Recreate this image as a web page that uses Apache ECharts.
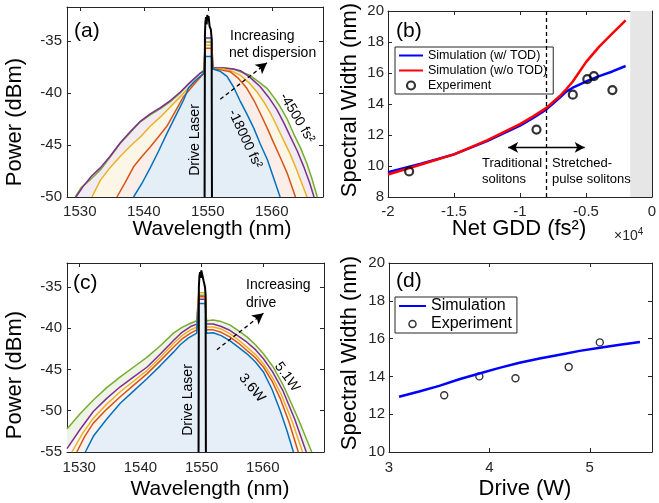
<!DOCTYPE html>
<html><head><meta charset="utf-8">
<script src="https://cdn.jsdelivr.net/npm/echarts@6/dist/echarts.min.js"></script>
<style>html,body{margin:0;padding:0;background:#fff}#c{width:659px;height:503px}</style>
</head><body><div id="c"></div>
<script>
// ================= DATA =================
// Panel (a): spectra vs net dispersion, [wavelength nm, power dBm]
const aTicksX = [1530, 1540, 1550, 1560];
const aTicksY = [-50, -45, -40, -35];
const aBlue = [[1538.4,-50],[1539.7,-48.7],[1541.0,-47.2],[1542.3,-45.6],[1543.6,-43.9],[1544.9,-42.3],[1546.2,-40.7],[1547.0,-39.5],[1547.9,-38.9],[1548.8,-38.4],[1549.4,-38.1],[1549.6,-36.5],[1550.6,-36.5],[1550.8,-37.7],[1551.9,-37.9],[1553.0,-38.4],[1554.0,-39.4],[1555.0,-40.7],[1556.1,-42.0],[1557.2,-43.4],[1558.2,-44.9],[1559.3,-46.4],[1560.3,-48.2],[1561.3,-50]];
const aRed = [[1535.8,-50],[1537.1,-48.6],[1538.4,-47.1],[1539.7,-46.1],[1541.0,-45.2],[1542.3,-44.2],[1543.6,-43.2],[1544.9,-41.8],[1546.2,-40.35],[1547.8,-39.2],[1548.8,-38.5],[1549.4,-38.1],[1549.6,-35.7],[1550.6,-35.7],[1550.8,-37.7],[1552.2,-37.8],[1553.5,-37.95],[1554.8,-38.6],[1556.1,-39.55],[1557.2,-40.7],[1558.2,-41.95],[1559.3,-43.4],[1560.3,-44.8],[1561.4,-46.3],[1562.4,-47.7],[1563.7,-50]];
const aYellow = [[1531.9,-50],[1533.2,-48.4],[1534.7,-47.2],[1536.3,-46.1],[1537.9,-45.1],[1539.5,-44.2],[1541.0,-43.2],[1542.6,-42.3],[1544.2,-41.3],[1545.7,-40.35],[1547.0,-39.5],[1548.3,-38.75],[1549.4,-38.1],[1549.6,-35.4],[1550.6,-35.4],[1550.8,-37.7],[1552.5,-37.7],[1553.8,-37.9],[1555.1,-38.3],[1556.4,-39.0],[1557.7,-39.9],[1558.8,-40.9],[1559.8,-41.95],[1560.8,-43.2],[1561.8,-44.5],[1562.9,-45.9],[1563.9,-47.4],[1564.7,-48.7],[1565.5,-50]];
const aPurple = [[1529.4,-50],[1530.5,-49.0],[1531.8,-48.0],[1533.2,-47.2],[1534.7,-46.1],[1536.3,-44.8],[1537.9,-43.7],[1539.5,-42.7],[1541.0,-42.0],[1542.6,-41.4],[1544.2,-40.7],[1545.7,-39.9],[1547.2,-39.0],[1548.8,-38.1],[1549.4,-37.9],[1549.6,-34.7],[1550.6,-34.7],[1550.8,-37.6],[1552.5,-37.6],[1554.0,-37.7],[1555.1,-37.85],[1556.6,-38.5],[1558.2,-39.4],[1559.5,-40.4],[1560.8,-41.6],[1561.9,-42.9],[1562.9,-44.2],[1564.0,-45.6],[1565.0,-47.1],[1565.9,-48.6],[1566.6,-50]];
const aGreen = [[1529.3,-50],[1530.2,-49.1],[1531.7,-48.3],[1533.2,-47.4],[1534.8,-46.1],[1536.3,-44.85],[1537.9,-43.8],[1539.5,-42.75],[1541.0,-42.1],[1542.6,-41.5],[1544.2,-40.8],[1545.7,-40.0],[1547.2,-39.0],[1548.8,-38.1],[1549.4,-37.8],[1549.6,-35.1],[1550.6,-35.1],[1550.8,-37.6],[1552.5,-37.6],[1554.0,-37.7],[1555.3,-38.0],[1556.6,-38.3],[1557.9,-38.9],[1559.25,-39.55],[1560.3,-40.4],[1561.3,-41.3],[1562.4,-42.5],[1563.4,-43.9],[1564.5,-45.3],[1565.5,-46.8],[1566.3,-48.3],[1567.1,-50]];
const aDrive = [[1549.5,-50],[1549.55,-34.5],[1549.62,-33.2],[1549.72,-32.7],[1549.82,-33.4],[1549.92,-32.5],[1550.02,-32.9],[1550.12,-32.6],[1550.28,-33.6],[1550.48,-33.9],[1550.6,-34.8],[1550.65,-50]];
const aArrow = [[1551.95,-40.6],[1559.25,-37.1]];

// Panel (b): spectral width vs net GDD (fs^2)
const bTicksX = [-20000, -15000, -10000, -5000, 0];
const bGDD = [-20000,-17500,-15000,-12500,-10000,-9000,-8000,-7000,-6500,-6000,-5000,-4000,-3000,-2000];
const bSimTOD = [9.6,10.15,10.75,11.6,12.6,13.1,13.65,14.4,14.8,15.05,15.45,15.8,16.1,16.45];
const bSimNoTOD = [9.45,10.1,10.75,11.65,12.7,13.2,13.75,14.5,14.95,15.45,16.7,17.7,18.55,19.4];
const bExp = [[-18400,9.65],[-8750,12.35],[-6000,14.6],[-4900,15.6],[-4400,15.8],[-3000,14.9]];
const bBoundary = -8000;
const bUnstable = [-1650, 0];
const bArrow = [[-10900,11.2],[-5100,11.2]];

// Panel (c): spectra vs drive power
const cTicksX = [1530, 1540, 1550, 1560];
const cTicksY = [-55, -50, -45, -40, -35];
const cBlue = [[1531.0,-55],[1532.3,-53.1],[1534.5,-51.0],[1536.7,-49.1],[1538.9,-47.6],[1541.1,-46.1],[1543.3,-44.5],[1545.4,-42.9],[1546.5,-42.0],[1547.8,-41.2],[1549.2,-40.6],[1549.5,-37.0],[1550.6,-37.0],[1550.8,-40.6],[1551.9,-40.55],[1553.2,-40.9],[1554.6,-41.5],[1556.0,-42.3],[1557.4,-43.1],[1558.8,-44.1],[1560.1,-45.3],[1561.5,-47.4],[1562.8,-49.9],[1563.9,-52.3],[1565.0,-55]];
const cRed = [[1529.6,-55],[1530.9,-53.1],[1532.3,-51.5],[1534.5,-49.8],[1536.7,-48.3],[1538.9,-46.9],[1541.1,-45.5],[1543.3,-43.9],[1545.4,-42.3],[1546.8,-41.3],[1548.2,-40.6],[1549.2,-40.2],[1549.5,-36.2],[1550.6,-36.2],[1550.8,-40.2],[1551.9,-40.2],[1553.2,-40.5],[1554.6,-41.05],[1556.0,-41.8],[1557.4,-42.7],[1558.8,-43.6],[1560.1,-44.7],[1561.5,-46.4],[1562.9,-48.6],[1564.3,-51.4],[1565.8,-55]];
const cYellow = [[1528.8,-55],[1530.5,-52.8],[1532.3,-50.9],[1534.5,-49.2],[1536.7,-47.7],[1538.9,-46.4],[1541.1,-45.1],[1543.3,-43.5],[1545.4,-41.85],[1546.8,-40.9],[1548.2,-40.2],[1549.2,-39.85],[1549.5,-35.7],[1550.6,-35.7],[1550.8,-39.85],[1551.9,-39.85],[1553.2,-40.1],[1554.6,-40.65],[1556.0,-41.4],[1557.4,-42.3],[1558.8,-43.2],[1560.1,-44.3],[1561.5,-45.9],[1563.0,-48.0],[1564.8,-51.3],[1566.5,-55]];
const cPurple = [[1528.0,-54.6],[1530.1,-52.3],[1532.3,-50.1],[1534.5,-48.5],[1536.7,-47.1],[1538.9,-45.9],[1541.1,-44.7],[1543.3,-43.1],[1545.4,-41.5],[1546.8,-40.5],[1548.2,-39.8],[1549.2,-39.5],[1549.5,-36.5],[1550.6,-36.5],[1550.8,-39.5],[1551.9,-39.5],[1553.2,-39.8],[1554.6,-40.25],[1556.0,-40.95],[1557.4,-41.7],[1558.8,-42.6],[1560.1,-43.7],[1561.6,-45.3],[1563.3,-47.6],[1565.2,-51.0],[1567.1,-55]];
const cGreen = [[1528.0,-52.2],[1530.1,-50.4],[1532.3,-48.7],[1534.5,-47.2],[1536.7,-45.9],[1538.9,-44.7],[1541.1,-43.5],[1543.3,-42.1],[1545.4,-40.6],[1546.8,-39.9],[1548.2,-39.4],[1549.2,-39.1],[1549.5,-36.0],[1550.6,-36.0],[1550.8,-39.1],[1551.9,-39.0],[1553.2,-39.2],[1554.6,-39.6],[1556.0,-40.3],[1557.4,-41.05],[1558.8,-42.0],[1560.1,-43.1],[1561.7,-44.7],[1563.4,-47.0],[1565.8,-51.0],[1568.0,-55]];
const cDrive = [[1549.5,-55],[1549.55,-35.0],[1549.65,-33.6],[1549.75,-33.2],[1549.85,-33.9],[1549.95,-33.0],[1550.1,-33.5],[1550.3,-34.2],[1550.55,-35.0],[1550.65,-36.0],[1550.7,-55]];
const cArrow = [[1552.5,-42.6],[1560.1,-38.2]];

// Panel (d): spectral width vs drive power (W)
const dDrive = [3.1,3.3,3.5,3.7,3.9,4.1,4.3,4.5,4.7,4.9,5.1,5.3,5.5];
const dSim = [12.92,13.2,13.5,13.85,14.15,14.45,14.72,14.95,15.15,15.35,15.52,15.68,15.82];
const dExp = [[3.55,13.0],[3.9,14.0],[4.26,13.9],[4.79,14.5],[5.1,15.8]];

// ================= CHART =================
const FONT = '"Liberation Sans", Arial, Helvetica, sans-serif';
const AX = '#262626';
const C = {blue:'#0072BD', red:'#D95319', yellow:'#EDB120', purple:'#7E2F8E', green:'#77AC30'};

const grids = [
  {left:67, top:7, width:256, height:190},
  {left:388, top:11, width:264, height:186},
  {left:67, top:263, width:257, height:189},
  {left:389, top:263, width:263, height:189}
].map(g => Object.assign({outerBoundsMode:'none', containLabel:false, show:false}, g));

const plainFmt = v => String(v);
function xAx(grid, min, max, ticks, pos, fmt, margin){
  return {type:'value', gridIndex:grid, position:pos, min:min, max:max,
    axisLine:{show:true, onZero:false, lineStyle:{color:AX, width:1}},
    axisTick:{show:true, inside:true, length:4, customValues:ticks, lineStyle:{color:AX}},
    axisLabel:{show:pos==='bottom', customValues:ticks, margin:margin, color:AX, fontSize:15, fontFamily:FONT, formatter:fmt || plainFmt},
    splitLine:{show:false}};
}
function yAx(grid, min, max, ticks, pos, margin){
  return {type:'value', gridIndex:grid, position:pos, min:min, max:max,
    axisLine:{show:true, onZero:false, lineStyle:{color:AX, width:1}},
    axisTick:{show:true, inside:true, length:4, customValues:ticks, lineStyle:{color:AX}},
    axisLabel:{show:pos==='left', customValues:ticks, margin:margin, color:AX, fontSize:15, fontFamily:FONT, formatter:plainFmt},
    splitLine:{show:false}};
}
const bFmt = v => String(+(v/10000).toFixed(1));
const xAxes = [
  xAx(0,1528,1568,aTicksX,'bottom',null,7), xAx(0,1528,1568,aTicksX,'top',null,7),
  xAx(1,-20000,0,bTicksX,'bottom',bFmt,7), xAx(1,-20000,0,bTicksX,'top',bFmt,7),
  xAx(2,1528,1570,cTicksX,'bottom',null,8), xAx(2,1528,1570,cTicksX,'top',null,8),
  xAx(3,3,5.62,[3,4,5],'bottom',null,8), xAx(3,3,5.62,[3,4,5],'top',null,8)
];
const yAxes = [
  yAx(0,-50,-31.73,aTicksY,'left',5), yAx(0,-50,-31.73,aTicksY,'right',5),
  yAx(1,8,20,[8,10,12,14,16,18,20],'left',4), yAx(1,8,20,[8,10,12,14,16,18,20],'right',4),
  yAx(2,-55,-32.1,cTicksY,'left',5), yAx(2,-55,-32.1,cTicksY,'right',5),
  yAx(3,10,20,[10,12,14,16,18,20],'left',4), yAx(3,10,20,[10,12,14,16,18,20],'right',4)
];

function spec(name, data, color, fill, ax){
  return {name:name, type:'line', xAxisIndex:ax, yAxisIndex:ax, data:data, symbol:'none', showSymbol:false,
    lineStyle:{color:color, width:1.5}, itemStyle:{color:color},
    areaStyle:{color:fill, opacity:1, origin:'start'}, silent:true};
}
function arrowML(pts, dashed, both){
  return {silent:true, symbol: both ? ['arrow','arrow'] : ['none','arrow'], symbolSize: both ? [8,10] : [9,11],
    label:{show:false}, lineStyle:{color:'#000', width:1.3, type: dashed ? [4,3] : 'solid'},
    data:[[{coord:pts[0]},{coord:pts[1]}]]};
}

const series = [
  spec('a5', aGreen, C.green, '#eef4e5', 0),
  spec('a4', aPurple, C.purple, '#f1ebf4', 0),
  spec('a3', aYellow, C.yellow, '#fcf6e6', 0),
  spec('a2', aRed, C.red, '#fbede7', 0),
  spec('a1', aBlue, C.blue, '#e4eef7', 0),
  {name:'aDrive', type:'line', xAxisIndex:0, yAxisIndex:0, data:aDrive, symbol:'none', lineStyle:{color:'#000', width:2}, silent:true,
   markLine: arrowML(aArrow, true, false)},

  {name:'Simulation (w/ TOD)', type:'line', xAxisIndex:2, yAxisIndex:2, data:bGDD.map((g,i)=>[g,bSimTOD[i]]), symbol:'none',
   lineStyle:{color:'#0000FF', width:2.5}, itemStyle:{color:'#0000FF'}, z:3,
   markArea:{silent:true, itemStyle:{color:'#e6e6e6'}, data:[[{xAxis:bUnstable[0]},{xAxis:bUnstable[1]}]]}},
  {name:'Simulation (w/o TOD)', type:'line', xAxisIndex:2, yAxisIndex:2, data:bGDD.map((g,i)=>[g,bSimNoTOD[i]]), symbol:'none',
   lineStyle:{color:'#FF0000', width:2.5}, itemStyle:{color:'#FF0000'}, z:4,
   markLine:{silent:true, symbol:'none', label:{show:false}, lineStyle:{color:'#000', width:1.3, type:[4,3]}, data:[{xAxis:bBoundary}]}},
  {name:'Experiment', type:'scatter', xAxisIndex:2, yAxisIndex:2, data:bExp, symbol:'circle', symbolSize:8,
   itemStyle:{color:'rgba(255,255,255,0)', borderColor:'#000', borderWidth:2.2}, z:5,
   markLine: arrowML(bArrow, false, true)},

  spec('c5', cGreen, C.green, '#eef4e5', 4),
  spec('c4', cPurple, C.purple, '#f8f5f9', 4),
  spec('c3', cYellow, C.yellow, '#fdfaf1', 4),
  spec('c2', cRed, C.red, '#fcf3ef', 4),
  spec('c1', cBlue, C.blue, '#e6eef7', 4),
  {name:'cDrive', type:'line', xAxisIndex:4, yAxisIndex:4, data:cDrive, symbol:'none', lineStyle:{color:'#000', width:2}, silent:true,
   markLine: arrowML(cArrow, true, false)},

  {name:'Simulation', type:'line', xAxisIndex:6, yAxisIndex:6, data:dDrive.map((p,i)=>[p,dSim[i]]), symbol:'none',
   lineStyle:{color:'#0000FF', width:2.5}, itemStyle:{color:'#0000FF'}},
  {name:'Experiment', type:'scatter', xAxisIndex:6, yAxisIndex:6, data:dExp, symbol:'circle', symbolSize:7,
   itemStyle:{color:'rgba(255,255,255,0)', borderColor:'#000', borderWidth:1.4}}
];

function T(text, x, y, size, opts){
  opts = opts || {};
  return {type:'text', x:x, y:y, rotation: opts.rot || 0, z:100, silent:true,
    style:{text:text, font: size + 'px ' + FONT, fill: opts.fill || '#000',
      textAlign: opts.align || 'center', textVerticalAlign:'middle', rich: opts.rich}};
}
const deg = Math.PI/180;
const graphic = [
  T('(a)', 74, 31, 21, {align:'left'}),
  T('(b)', 396, 31, 21, {align:'left'}),
  T('(c)', 73, 283, 21, {align:'left'}),
  T('(d)', 396, 281, 21, {align:'left'}),
  T('Increasing', 230, 36, 14, {align:'left'}),
  T('net dispersion', 229, 53, 14, {align:'left'}),
  T('Drive Laser', 195, 140, 14, {rot:90*deg}),
  T('-18000 fs²', 245, 139, 14, {rot:-65*deg}),
  T('-4500 fs²', 297, 118, 14, {rot:-59*deg}),
  T('Increasing', 246, 285, 14, {align:'left'}),
  T('drive', 246, 303, 14, {align:'left'}),
  T('Drive Laser', 188, 400, 14, {rot:90*deg}),
  T('5.1W', 287, 377, 14, {rot:-54*deg}),
  T('3.6W', 252, 388, 14, {rot:-50*deg}),
  T('Traditional', 482, 163, 13, {align:'left'}),
  T('solitons', 482, 179, 13, {align:'left'}),
  T('Stretched-', 552, 163, 13, {align:'left'}),
  T('pulse solitons', 552, 179, 13, {align:'left'}),
  T('{a|×10}{s|4}', 614, 236, 14, {align:'left', fill:AX, rich:{a:{fontSize:14, fontFamily:FONT, fill:AX}, s:{fontSize:10, fontFamily:FONT, fill:AX, verticalAlign:'top', padding:[0,0,8,0]}}}),
  T('Wavelength (nm)', 212, 229, 21),
  T('Power (dBm)', 15, 122, 22, {rot:90*deg}),
  T('Net GDD (fs²)', 519, 229, 22),
  T('Spectral Width (nm)', 350, 100, 22, {rot:90*deg}),
  T('Wavelength (nm)', 210, 489, 21),
  T('Power (dBm)', 15, 375, 22, {rot:90*deg}),
  T('Drive (W)', 525, 489, 22),
  T('Spectral Width (nm)', 350, 353, 22, {rot:90*deg})
];

const noSym = {opacity:0, color:'rgba(0,0,0,0)', borderColor:'rgba(0,0,0,0)', borderWidth:0};
const hollowB = {color:'rgba(255,255,255,0)', borderColor:'#000', borderWidth:2.2};
const hollowD = {color:'rgba(255,255,255,0)', borderColor:'#000', borderWidth:1.5};
const legend = [
  {data:[{name:'Simulation (w/ TOD)', itemStyle:noSym},{name:'Simulation (w/o TOD)', itemStyle:noSym},{name:'Experiment', icon:'circle', itemStyle:hollowB}],
   orient:'vertical', left:395, top:47, itemWidth:24, itemHeight:8, itemGap:2, padding:[2,6,2,3],
   borderColor:AX, borderWidth:1, backgroundColor:'#fff', selectedMode:false,
   textStyle:{fontSize:12.5, fontFamily:FONT, color:'#000'}},
  {data:[{name:'Simulation', itemStyle:noSym},{name:'Experiment', icon:'circle', itemStyle:hollowD}],
   orient:'vertical', left:395, top:297, itemWidth:27, itemHeight:7, itemGap:2, padding:[1,5,1,3],
   borderColor:AX, borderWidth:1, backgroundColor:'#fff', selectedMode:false,
   textStyle:{fontSize:16, fontFamily:FONT, color:'#000'}}
];

const chart = echarts.init(document.getElementById('c'), null, {renderer:'canvas'});
chart.setOption({animation:false, backgroundColor:'#fff', grid:grids, xAxis:xAxes, yAxis:yAxes,
  series:series, legend:legend, graphic:graphic, textStyle:{fontFamily:FONT}});
</script>
</body></html>
